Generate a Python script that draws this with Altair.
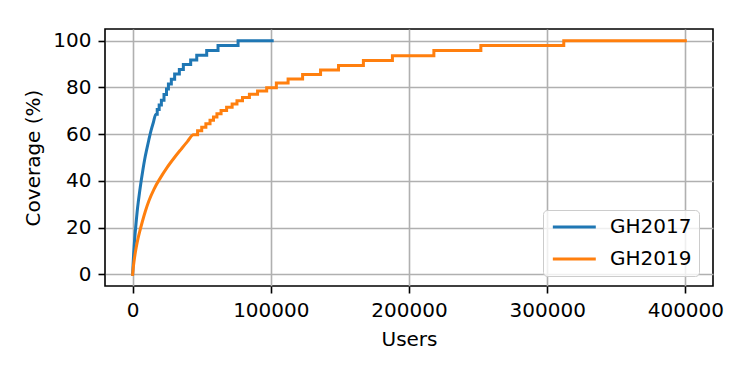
import altair as alt
import pandas as pd

series_names = ["GH2017", "GH2019"]
series_colors = ["#1f77b4", "#ff7f0e"]
x_ticks = [0, 100000, 200000, 300000, 400000]
y_ticks = [0, 20, 40, 60, 80, 100]

# GH2017: smooth lower part
gh2017_smooth_users = [0, 300, 700, 1200, 1800, 2500, 3300, 4200, 5200, 6300,
                       7500, 8800, 10200, 11700, 13300, 15000, 16800]
gh2017_smooth_cov = [0, 4, 8.5, 13, 17.5, 22, 27, 31.5, 36, 40.5,
                     45, 49.5, 53.5, 57.5, 61.5, 65, 68.5]
# GH2017: visible steps (users where the new level starts, new level)
gh2017_step_users = [17800, 19200, 20800, 22700, 24500, 25900, 28000, 30400, 33800,
                     36700, 42000, 46400, 53600, 61800, 76300]
gh2017_step_cov = [70.5, 72.5, 74.5, 77, 79.3, 81.5, 83.5, 85.7, 87.7,
                   89.8, 91.7, 93.8, 95.8, 97.9, 100]
gh2017_last_users = 101000

# GH2019: smooth lower part
gh2019_smooth_users = [0, 400, 1000, 2000, 3400, 5000, 7000, 9200, 11800, 15500,
                       20300, 25000, 30000, 35000, 39600, 44000]
gh2019_smooth_cov = [0, 2.5, 5.5, 9.5, 14, 18, 22.5, 27, 31.5, 36.5,
                     41.5, 45.8, 49.8, 53.5, 56.8, 59.7]
# GH2019: visible steps
gh2019_step_users = [47000, 50000, 53000, 56000, 58500, 61000, 64000, 68000, 72000,
                     75500, 79500, 84500, 90400, 97000, 104000, 112500, 123000,
                     136000, 149000, 167000, 188000, 218000, 252000, 312000]
gh2019_step_cov = [61.4, 62.9, 64.4, 65.9, 67.3, 68.7, 70.1, 71.5, 72.9,
                   74.3, 75.7, 77.1, 78.5, 79.9, 81.9, 83.6, 85.5,
                   87.4, 89.4, 91.5, 93.6, 95.8, 97.9, 100]
gh2019_last_users = 400000

rows = []
def add_series(name, su, sc, tu, tc, last):
    k = 0
    for u, c in zip(su, sc):
        rows.append({"series": name, "users": u, "coverage": c, "k": k}); k += 1
    prev = sc[-1]
    for u, c in zip(tu, tc):
        rows.append({"series": name, "users": u, "coverage": prev, "k": k}); k += 1
        rows.append({"series": name, "users": u, "coverage": c, "k": k}); k += 1
        prev = c
    rows.append({"series": name, "users": last, "coverage": prev, "k": k})

add_series(series_names[0], gh2017_smooth_users, gh2017_smooth_cov,
           gh2017_step_users, gh2017_step_cov, gh2017_last_users)
add_series(series_names[1], gh2019_smooth_users, gh2019_smooth_cov,
           gh2019_step_users, gh2019_step_cov, gh2019_last_users)
df = pd.DataFrame(rows)

font = "DejaVu Sans"

chart = alt.Chart(df).mark_line(
    strokeWidth=3, strokeCap="square", strokeJoin="miter", interpolate="monotone"
).encode(
    x=alt.X("users:Q",
            scale=alt.Scale(domain=[-20000, 420000], nice=False, zero=False),
            axis=alt.Axis(values=x_ticks, format="d", title="Users",
                          labelOverlap=False, labelFlush=False, titlePadding=9)),
    y=alt.Y("coverage:Q",
            scale=alt.Scale(domain=[-5, 105], nice=False, zero=False),
            axis=alt.Axis(values=y_ticks, format="d", title="Coverage (%)",
                          labelOverlap=False, labelFlush=False, titlePadding=9)),
    color=alt.Color("series:N",
                    scale=alt.Scale(domain=series_names, range=series_colors),
                    legend=alt.Legend(
                        title=None, orient="none", legendX=438, legendY=181,
                        symbolType="M-1,0H5", symbolSize=205, symbolStrokeWidth=3,
                        labelFont=font, labelFontSize=20, labelColor="black",
                        labelOffset=40, padding=7, rowPadding=12,
                        strokeColor="#cccccc", fillColor="rgba(255,255,255,0.8)",
                        cornerRadius=4)),
    order=alt.Order("k:Q"),
).properties(
    width=608, height=257,
    autosize=alt.AutoSizeParams(type="none"),
    padding={"left": 97, "top": 21, "right": 26, "bottom": 80},
).configure_view(
    stroke="black", strokeWidth=1.6
).configure_axis(
    domain=False, grid=True, gridColor="#b0b0b0", gridWidth=1.6,
    tickColor="black", tickWidth=1.6, tickSize=7,
    labelFont=font, labelFontSize=20, labelColor="black", labelPadding=7,
    titleFont=font, titleFontSize=20, titleFontWeight="normal", titleColor="black",
)

chart.save("out.html", embed_options={"renderer": "svg", "actions": False})
